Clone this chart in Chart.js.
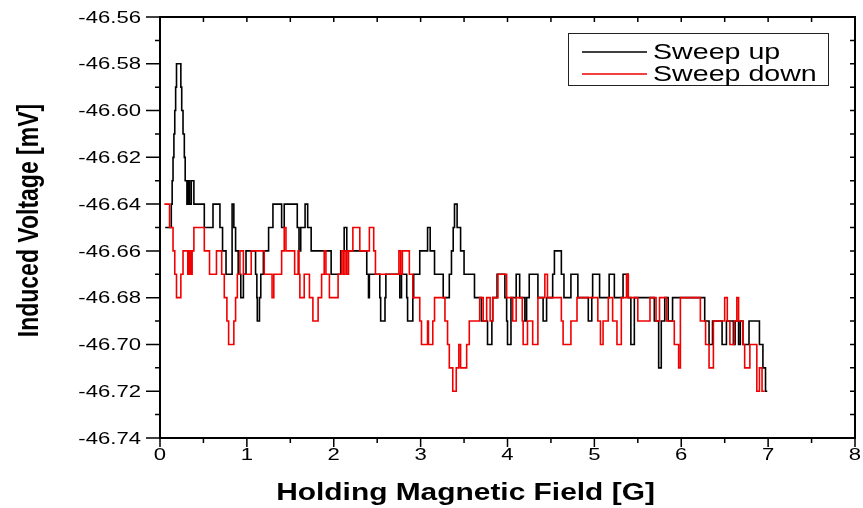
<!DOCTYPE html>
<html>
<head>
<meta charset="utf-8">
<script src="https://cdn.jsdelivr.net/npm/chart.js@4.4.0/dist/chart.umd.min.js"></script>
<style>
  html, body { margin: 0; padding: 0; background: #fff; }
</style>
</head>
<body>
<canvas id="fieldChart" width="863" height="508"></canvas>
<script>
// Sweep up: x where each level starts, and the level held until the next x
const upX = [0.06,0.13,0.14,0.15,0.16,0.17,0.18,0.19,0.24,0.25,0.265,0.28,0.29,0.31,0.325,0.34,0.36,0.39,
  0.51,0.61,0.69,0.72,0.76,0.83,0.85,0.87,0.90,0.93,0.96,0.99,1.10,1.115,1.12,1.145,1.16,1.19,1.25,1.30,
  1.40,1.43,1.58,1.60,1.62,1.67,1.70,1.74,1.97,2.08,2.12,2.15,2.38,2.40,2.41,2.53,2.54,2.59,2.60,2.76,
  2.78,2.84,2.85,2.91,2.92,2.99,3.08,3.11,3.16,3.26,3.33,3.355,3.375,3.39,3.42,3.46,3.50,3.62,3.70,3.77,
  3.82,3.83,3.88,3.97,3.99,4.00,4.04,4.10,4.14,4.20,4.22,4.25,4.35,4.41,4.45,4.52,4.54,4.62,4.65,4.73,
  4.81,4.93,4.97,4.98,5.06,5.17,5.23,5.33,5.39,5.42,5.46,5.69,5.74,5.77,5.81,5.85,5.90,6.27,6.32,6.36,
  6.47,6.52,6.60,6.62,6.66,6.68,6.71,6.78,6.90,6.94,6.97,6.99];
const upY = [-46.65,-46.64,-46.63,-46.62,-46.61,-46.60,-46.59,-46.58,-46.59,-46.60,-46.61,-46.62,-46.63,-46.64,-46.63,-46.64,-46.63,-46.64,
  -46.65,-46.64,-46.65,-46.66,-46.67,-46.64,-46.65,-46.66,-46.67,-46.68,-46.67,-46.66,-46.67,-46.68,-46.69,-46.68,-46.67,-46.66,-46.65,-46.64,
  -46.65,-46.64,-46.65,-46.66,-46.65,-46.64,-46.65,-46.66,-46.67,-46.66,-46.65,-46.66,-46.67,-46.68,-46.67,-46.68,-46.69,-46.68,-46.67,-46.68,
  -46.67,-46.68,-46.69,-46.68,-46.67,-46.66,-46.65,-46.66,-46.67,-46.68,-46.67,-46.66,-46.65,-46.64,-46.65,-46.66,-46.67,-46.68,-46.69,-46.70,
  -46.69,-46.68,-46.67,-46.68,-46.69,-46.70,-46.68,-46.67,-46.68,-46.69,-46.68,-46.67,-46.68,-46.69,-46.68,-46.67,-46.66,-46.67,-46.68,-46.67,
  -46.68,-46.69,-46.68,-46.67,-46.68,-46.67,-46.68,-46.67,-46.68,-46.70,-46.68,-46.69,-46.71,-46.69,-46.68,-46.69,-46.68,-46.69,-46.70,-46.69,
  -46.70,-46.69,-46.70,-46.69,-46.70,-46.69,-46.70,-46.69,-46.70,-46.71,-46.72,-46.72];

// Sweep down
const downX = [0.05,0.11,0.15,0.17,0.19,0.24,0.265,0.32,0.33,0.34,0.35,0.36,0.37,0.39,0.51,0.57,0.65,0.71,
  0.74,0.77,0.79,0.85,0.87,0.89,0.92,0.96,1.05,1.20,1.29,1.31,1.40,1.43,1.45,1.55,1.59,1.60,1.61,1.66,
  1.72,1.76,1.82,1.86,1.89,1.91,1.95,2.05,2.09,2.11,2.13,2.15,2.17,2.22,2.30,2.41,2.46,2.48,2.75,2.77,
  2.79,2.87,2.91,2.99,3.01,3.08,3.09,3.14,3.16,3.28,3.31,3.33,3.37,3.41,3.44,3.46,3.53,3.56,3.68,3.72,
  3.76,3.80,3.83,3.89,3.99,4.06,4.10,4.17,4.18,4.23,4.29,4.35,4.43,4.46,4.62,4.64,4.73,4.80,5.04,5.07,
  5.10,5.16,5.21,5.26,5.31,5.37,5.39,5.50,5.64,5.71,5.75,5.83,5.92,5.97,5.99,6.22,6.28,6.32,6.37,6.50,
  6.53,6.56,6.61,6.64,6.66,6.71,6.73,6.79,6.87,6.90,6.93,6.96];
const downY = [-46.64,-46.65,-46.66,-46.67,-46.68,-46.67,-46.66,-46.67,-46.66,-46.67,-46.66,-46.67,-46.66,-46.65,-46.66,-46.67,-46.66,-46.67,
  -46.68,-46.69,-46.70,-46.69,-46.68,-46.67,-46.66,-46.67,-46.66,-46.67,-46.68,-46.67,-46.66,-46.65,-46.66,-46.67,-46.66,-46.67,-46.68,-46.67,
  -46.68,-46.69,-46.68,-46.67,-46.66,-46.67,-46.68,-46.67,-46.66,-46.67,-46.66,-46.67,-46.66,-46.65,-46.66,-46.65,-46.66,-46.67,-46.66,-46.67,
  -46.66,-46.67,-46.68,-46.69,-46.70,-46.69,-46.70,-46.69,-46.68,-46.69,-46.70,-46.71,-46.72,-46.71,-46.70,-46.71,-46.70,-46.69,-46.68,-46.69,
  -46.68,-46.69,-46.68,-46.67,-46.68,-46.69,-46.68,-46.69,-46.70,-46.69,-46.70,-46.68,-46.67,-46.68,-46.69,-46.70,-46.69,-46.68,-46.69,-46.70,
  -46.69,-46.68,-46.69,-46.70,-46.68,-46.67,-46.68,-46.69,-46.68,-46.69,-46.68,-46.69,-46.70,-46.71,-46.68,-46.69,-46.70,-46.71,-46.69,-46.68,
  -46.69,-46.70,-46.69,-46.68,-46.69,-46.70,-46.71,-46.70,-46.72,-46.71,-46.72,-46.72];

const seriesNames = ['Sweep up', 'Sweep down'];
const xTicks = [0, 1, 2, 3, 4, 5, 6, 7, 8];
const yTicks = [-46.56, -46.58, -46.60, -46.62, -46.64, -46.66, -46.68, -46.70, -46.72, -46.74];

const FONT = "'Liberation Sans', Arial, sans-serif";
const STRETCH = 1.3; // the original picture is stretched sideways

function toPoints(xs, ys) {
  return xs.map((x, i) => ({ x: x, y: ys[i] }));
}

function wideText(ctx, text, x, y, align, rotate) {
  ctx.save();
  ctx.translate(x, y);
  ctx.scale(STRETCH, 1);
  if (rotate) ctx.rotate(-Math.PI / 2);
  ctx.textAlign = align;
  ctx.textBaseline = 'middle';
  ctx.fillText(text, 0, 0);
  ctx.restore();
}

const axesPlugin = {
  id: 'originAxes',
  afterDatasetsDraw(chart) {
    const ctx = chart.ctx;
    const area = chart.chartArea;
    const xs = chart.scales.x;
    const ys = chart.scales.y;
    ctx.save();
    ctx.strokeStyle = '#000';
    ctx.fillStyle = '#000';

    // frame
    ctx.lineWidth = 2;
    ctx.strokeRect(area.left, area.top, area.right - area.left, area.bottom - area.top);

    ctx.lineWidth = 1.5;
    ctx.beginPath();
    // x ticks: major + minor halfway, outside at bottom, inside at top
    xTicks.forEach((v, i) => {
      const px = xs.getPixelForValue(v);
      ctx.moveTo(px, area.bottom); ctx.lineTo(px, area.bottom + 9);
      ctx.moveTo(px, area.top); ctx.lineTo(px, area.top + 5);
      if (i < xTicks.length - 1) {
        const pm = xs.getPixelForValue((v + xTicks[i + 1]) / 2);
        ctx.moveTo(pm, area.bottom); ctx.lineTo(pm, area.bottom + 5);
        ctx.moveTo(pm, area.top); ctx.lineTo(pm, area.top + 5);
      }
    });
    // y ticks: outside on the left, inside on the right
    yTicks.forEach((v, i) => {
      const py = ys.getPixelForValue(v);
      ctx.moveTo(area.left, py); ctx.lineTo(area.left - 14, py);
      ctx.moveTo(area.right, py); ctx.lineTo(area.right - 5, py);
      if (i < yTicks.length - 1) {
        const pm = ys.getPixelForValue((v + yTicks[i + 1]) / 2);
        ctx.moveTo(area.left, pm); ctx.lineTo(area.left - 5, pm);
        ctx.moveTo(area.right, pm); ctx.lineTo(area.right - 5, pm);
      }
    });
    ctx.stroke();

    // tick labels
    ctx.font = '17px ' + FONT;
    xTicks.forEach(v => {
      wideText(ctx, String(v), xs.getPixelForValue(v), area.bottom + 17, 'center');
    });
    yTicks.forEach(v => {
      wideText(ctx, v.toFixed(2), area.left - 19, ys.getPixelForValue(v) + 1, 'right');
    });

    // axis titles
    ctx.font = 'bold 23px ' + FONT;
    wideText(ctx, 'Holding Magnetic Field [G]', (area.left + area.right) / 2 - 42, area.bottom + 56, 'center');
    wideText(ctx, 'Induced Voltage [mV]', 30, (area.top + area.bottom) / 2 - 7, 'center', true);

    // legend box
    const bx = area.right - 287, by = area.top + 16, bw = 260, bh = 52;
    ctx.lineWidth = 1;
    ctx.strokeStyle = '#222';
    ctx.strokeRect(bx + 0.5, by + 0.5, bw, bh);
    ctx.font = '22px ' + FONT;
    chart.data.datasets.forEach((ds, i) => {
      const ly = by + 19 + i * 22;
      ctx.strokeStyle = ds.borderColor;
      ctx.lineWidth = 1.5;
      ctx.beginPath();
      ctx.moveTo(bx + 14, ly); ctx.lineTo(bx + 79, ly);
      ctx.stroke();
      ctx.fillStyle = '#000';
      wideText(ctx, ds.label, bx + 85, ly + 1, 'left');
    });
    ctx.restore();
  }
};

new Chart(document.getElementById('fieldChart'), {
  type: 'line',
  data: {
    datasets: [
      {
        label: seriesNames[0],
        data: toPoints(upX, upY),
        borderColor: '#000000',
        borderWidth: 1.6,
        stepped: true,
        pointRadius: 0,
        fill: false,
        order: 2
      },
      {
        label: seriesNames[1],
        data: toPoints(downX, downY),
        borderColor: '#f00000',
        borderWidth: 1.6,
        stepped: true,
        pointRadius: 0,
        fill: false,
        order: 1
      }
    ]
  },
  options: {
    responsive: false,
    animation: false,
    devicePixelRatio: 1,
    layout: { padding: { left: 160, right: 8, top: 17, bottom: 70 } },
    plugins: { legend: { display: false }, tooltip: { enabled: false } },
    scales: {
      x: { type: 'linear', min: 0, max: 8, display: false },
      y: { type: 'linear', min: -46.74, max: -46.56, display: false }
    }
  },
  plugins: [axesPlugin]
});
</script>
</body>
</html>
